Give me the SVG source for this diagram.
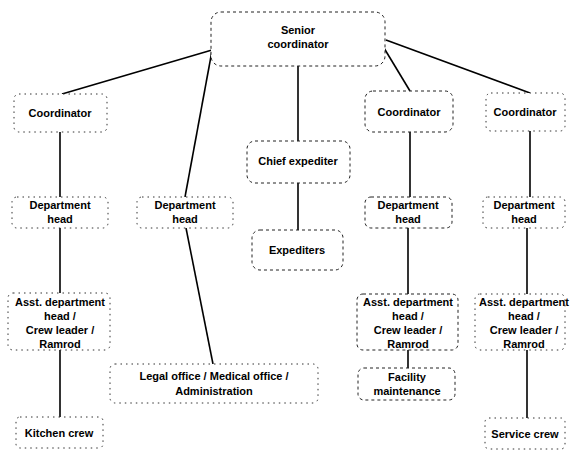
<svg xmlns="http://www.w3.org/2000/svg" width="570" height="450" viewBox="0 0 570 450">
<style>
.box{fill:#fff;stroke:#222;stroke-width:1;stroke-dasharray:3 3;}
.dot{fill:#fff;stroke:#333;stroke-width:1;stroke-dasharray:1.5 4;}
.t{font-family:"Liberation Sans",Arial,sans-serif;font-weight:bold;font-size:11px;fill:#000;text-anchor:middle;}
.c line{stroke:#000;stroke-width:1.6;}
</style>
<rect width="570" height="450" fill="#fff"/>
<g class="c" id="connectors">
<line x1="212" y1="50" x2="62" y2="94"/>
<line x1="214" y1="40" x2="185" y2="197"/>
<line x1="298" y1="66" x2="298" y2="141"/>
<line x1="298" y1="183" x2="298" y2="230"/>
<line x1="384" y1="48" x2="410" y2="91"/>
<line x1="386" y1="40" x2="530" y2="93"/>
<line x1="60" y1="132" x2="60" y2="197"/>
<line x1="410" y1="132" x2="410" y2="197"/>
<line x1="530" y1="130" x2="530" y2="197"/>
<line x1="60" y1="228" x2="60" y2="295"/>
<line x1="186" y1="228" x2="213" y2="364"/>
<line x1="408" y1="228" x2="408" y2="296"/>
<line x1="527" y1="228" x2="527" y2="296"/>
<line x1="60" y1="350" x2="60" y2="417"/>
<line x1="408" y1="350" x2="408" y2="368"/>
<line x1="527" y1="350" x2="527" y2="418"/>
</g>
<g id="senior"><rect class="box" x="211" y="12" width="174" height="54" rx="10"/><text class="t" x="298" y="34">Senior</text><text class="t" x="298" y="48">coordinator</text></g>
<g id="coord1"><rect class="dot" x="14" y="94" width="93" height="38" rx="5"/><text class="t" x="60" y="117">Coordinator</text></g>
<g id="coord2"><rect class="box" x="365" y="91" width="88" height="41" rx="8"/><text class="t" x="409" y="116">Coordinator</text></g>
<g id="coord3"><rect class="dot" x="486" y="93" width="79" height="38" rx="5"/><text class="t" x="525" y="116">Coordinator</text></g>
<g id="chief"><rect class="box" x="247" y="141" width="103" height="42" rx="8"/><text class="t" x="298" y="165">Chief expediter</text></g>
<g id="expediters"><rect class="box" x="252" y="230" width="91" height="40" rx="8"/><text class="t" x="297" y="254">Expediters</text></g>
<g id="dept1"><rect class="dot" x="12" y="197" width="96" height="31" rx="5"/><text class="t" x="60" y="209">Department</text><text class="t" x="60" y="223">head</text></g>
<g id="dept2"><rect class="dot" x="137" y="197" width="96" height="31" rx="5"/><text class="t" x="185" y="209">Department</text><text class="t" x="185" y="223">head</text></g>
<g id="dept3"><rect class="box" x="365" y="197" width="87" height="31" rx="6"/><text class="t" x="408" y="209">Department</text><text class="t" x="408" y="223">head</text></g>
<g id="dept4"><rect class="dot" x="483" y="197" width="82" height="31" rx="5"/><text class="t" x="524" y="209">Department</text><text class="t" x="524" y="223">head</text></g>
<g id="asst1"><rect class="dot" x="8" y="293" width="102" height="57" rx="5"/><text class="t" x="60" y="306">Asst. department</text><text class="t" x="60" y="320">head /</text><text class="t" x="60" y="334">Crew leader /</text><text class="t" x="60" y="348">Ramrod</text></g>
<g id="asst3"><rect class="box" x="357" y="294" width="101" height="56" rx="6"/><text class="t" x="408" y="306">Asst. department</text><text class="t" x="408" y="320">head /</text><text class="t" x="408" y="334">Crew leader /</text><text class="t" x="408" y="348">Ramrod</text></g>
<g id="asst4"><rect class="dot" x="475" y="294" width="90" height="56" rx="5"/><text class="t" x="524" y="306">Asst. department</text><text class="t" x="524" y="320">head /</text><text class="t" x="524" y="334">Crew leader /</text><text class="t" x="524" y="348">Ramrod</text></g>
<g id="legal"><rect class="dot" x="110" y="364" width="208" height="39" rx="5"/><text class="t" x="214" y="380">Legal office / Medical office /</text><text class="t" x="214" y="395">Administration</text></g>
<g id="facility"><rect class="box" x="358" y="368" width="97" height="32" rx="6"/><text class="t" x="407" y="381">Facility</text><text class="t" x="407" y="395">maintenance</text></g>
<g id="kitchen"><rect class="dot" x="16" y="417" width="87" height="31" rx="4"/><text class="t" x="59" y="437">Kitchen crew</text></g>
<g id="service"><rect class="dot" x="485" y="418" width="80" height="31" rx="4"/><text class="t" x="525" y="438">Service crew</text></g>
</svg>
